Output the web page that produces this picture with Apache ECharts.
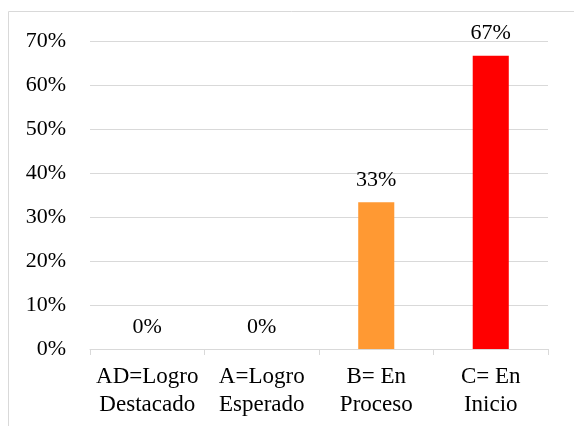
<!DOCTYPE html>
<html>
<head>
<meta charset="utf-8">
<script src="https://cdn.jsdelivr.net/npm/echarts@6/dist/echarts.min.js"></script>
<style>
  html, body { margin: 0; padding: 0; background: #fff; }
  #main { width: 574px; height: 426px; }
</style>
</head>
<body>
<div id="main"></div>
<script>
// categories and values (percent)
var categories = ['AD=Logro\nDestacado', 'A=Logro\nEsperado', 'B= En\nProceso', 'C= En\nInicio']
var values = [0, 0, 33.33, 66.67]
var barColors = ['#4472c4', '#4472c4', '#ff9933', '#ff0000']
var yTicks = [0, 10, 20, 30, 40, 50, 60, 70]

var chart = echarts.init(document.getElementById('main'))
var font = '"Liberation Serif", "Times New Roman", serif'

chart.setOption({
  animation: false,
  textStyle: { fontFamily: font },
  graphic: [{
    type: 'rect',
    shape: { x: 8.5, y: 11.5, width: 700, height: 600 },
    style: { fill: 'none', stroke: '#d9d9d9', lineWidth: 1 },
    silent: true
  }],
  grid: {
    left: 90,
    right: 26,
    top: 41,
    bottom: 77
  },
  xAxis: {
    type: 'category',
    data: categories,
    axisLine: { lineStyle: { color: '#d9d9d9', width: 1 } },
    axisTick: { show: true, length: 6, lineStyle: { color: '#d9d9d9' } },
    axisLabel: {
      color: '#000',
      fontFamily: font,
      fontSize: 23,
      lineHeight: 28,
      margin: 14,
      interval: 0
    }
  },
  yAxis: {
    type: 'value',
    min: 0,
    max: yTicks[yTicks.length - 1],
    interval: 10,
    axisLine: { show: false },
    axisTick: { show: false },
    splitLine: { lineStyle: { color: '#d9d9d9', width: 1 } },
    axisLabel: {
      color: '#000',
      fontFamily: font,
      fontSize: 22,
      margin: 24,
      formatter: function (v) { return v + '%' }
    }
  },
  series: [{
    type: 'bar',
    barWidth: '31.5%',
    data: values.map(function (v, i) {
      return { value: v, itemStyle: { color: barColors[i] } }
    }),
    label: {
      show: true,
      position: 'top',
      distance: 11,
      color: '#000',
      fontFamily: font,
      fontSize: 22,
      formatter: function (p) { return Math.round(p.value) + '%' }
    }
  }]
})
</script>
</body>
</html>
